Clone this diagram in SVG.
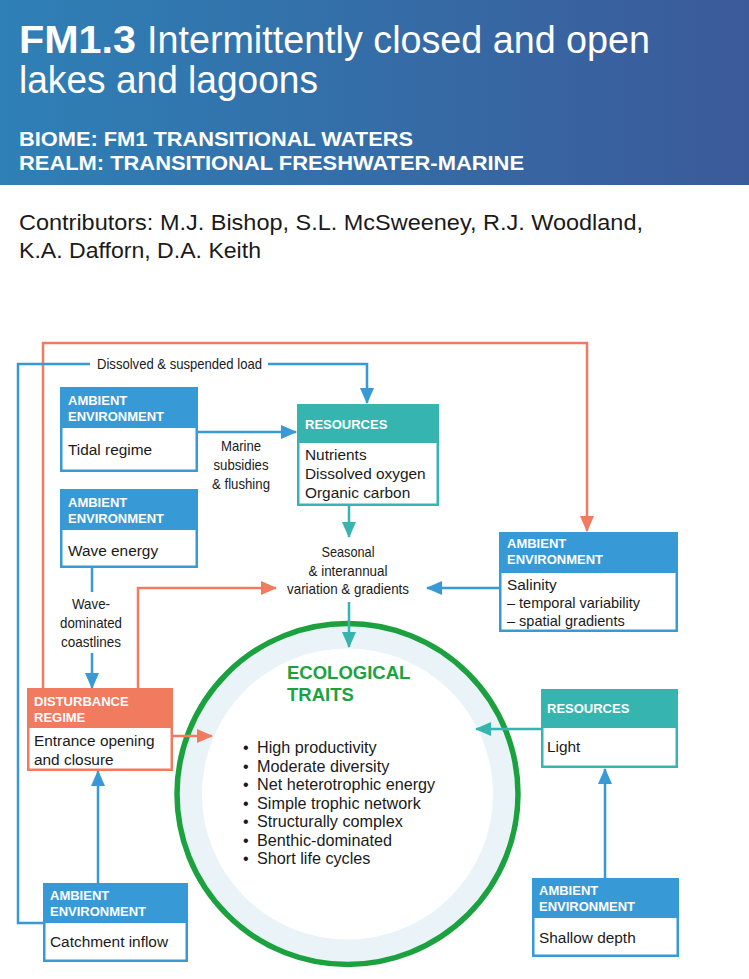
<svg xmlns="http://www.w3.org/2000/svg" width="749" height="979" viewBox="0 0 749 979">
<defs>
<linearGradient id="hg" x1="0" y1="0" x2="1" y2="0">
<stop offset="0" stop-color="#2e80b6"/>
<stop offset="1" stop-color="#3b5a99"/>
</linearGradient>
<marker id="aB" markerUnits="userSpaceOnUse" markerWidth="16" markerHeight="14" viewBox="0 0 16 14" refX="15" refY="7" orient="auto"><path d="M0,0L16,7L0,14z" fill="#3799d6"/></marker>
<marker id="aT" markerUnits="userSpaceOnUse" markerWidth="16" markerHeight="14" viewBox="0 0 16 14" refX="15" refY="7" orient="auto"><path d="M0,0L16,7L0,14z" fill="#36b5b0"/></marker>
<marker id="aO" markerUnits="userSpaceOnUse" markerWidth="16" markerHeight="14" viewBox="0 0 16 14" refX="15" refY="7" orient="auto"><path d="M0,0L16,7L0,14z" fill="#f07b5e"/></marker>
</defs>
<style>
.sans{font-family:"Liberation Sans",Arial,sans-serif}
.hd{font-family:"Liberation Sans",Arial,sans-serif;font-weight:bold;font-size:13px;fill:#fff}
.bd{font-family:"Liberation Sans",Arial,sans-serif;font-size:15.4px;fill:#1a1a1a}
.sm{font-family:"Liberation Sans",Arial,sans-serif;font-size:14.5px;fill:#1a1a1a}
.lb{font-family:"Liberation Sans Narrow","Liberation Sans",Arial,sans-serif;font-size:15px;fill:#1a1a1a;text-anchor:middle}
.bl{font-family:"Liberation Sans",Arial,sans-serif;font-size:16.2px;fill:#1a1a1a}
.cB{fill:none;stroke:#3799d6;stroke-width:2.5}
.cT{fill:none;stroke:#36b5b0;stroke-width:2.5}
.cO{fill:none;stroke:#f07b5e;stroke-width:2.5}
.bB{fill:#fff;stroke:#3799d6;stroke-width:2.5}
.bT{fill:#fff;stroke:#36b5b0;stroke-width:2.5}
.bO{fill:#fff;stroke:#f07b5e;stroke-width:2.5}
.hB{fill:#3799d6}
.hT{fill:#36b5b0}
.hO{fill:#f07b5e}
</style>

<g id="header">
<rect x="0" y="0" width="749" height="185" fill="url(#hg)"/>
<text x="19" y="53" class="sans" font-size="38" font-weight="bold" fill="#fff" textLength="117" lengthAdjust="spacingAndGlyphs">FM1.3</text>
<text x="147" y="53" class="sans" font-size="38" fill="#fff" textLength="503" lengthAdjust="spacingAndGlyphs">Intermittently closed and open</text>
<text x="19" y="93" class="sans" font-size="38" fill="#fff" textLength="299" lengthAdjust="spacingAndGlyphs">lakes and lagoons</text>
<text x="19" y="146" class="sans" font-size="20" font-weight="bold" fill="#fff" textLength="394" lengthAdjust="spacingAndGlyphs">BIOME: FM1 TRANSITIONAL WATERS</text>
<text x="19" y="170" class="sans" font-size="20" font-weight="bold" fill="#fff" textLength="505" lengthAdjust="spacingAndGlyphs">REALM: TRANSITIONAL FRESHWATER-MARINE</text>
</g>
<g id="contributors">
<text x="19" y="230" class="sans" font-size="22" fill="#1a1a1a" textLength="624" lengthAdjust="spacingAndGlyphs">Contributors: M.J. Bishop, S.L. McSweeney, R.J. Woodland,</text>
<text x="19" y="258" class="sans" font-size="22" fill="#1a1a1a" textLength="242" lengthAdjust="spacingAndGlyphs">K.A. Dafforn, D.A. Keith</text>
</g>

<g id="ecological-traits">
<circle cx="347.5" cy="794" r="171" fill="#eaf4f8"/>
<circle cx="347.5" cy="794" r="145.5" fill="#fff"/>
<circle cx="347.5" cy="794" r="170.5" fill="none" stroke="#1ba23f" stroke-width="5.5"/>
<text x="287" y="679" class="sans" font-size="18.5" font-weight="bold" fill="#1ba23f">ECOLOGICAL</text>
<text x="287" y="701" class="sans" font-size="18.5" font-weight="bold" fill="#1ba23f">TRAITS</text>
<g class="bl">
<text x="243" y="753">•</text><text x="257" y="753">High productivity</text>
<text x="243" y="771.5">•</text><text x="257" y="771.5">Moderate diversity</text>
<text x="243" y="790">•</text><text x="257" y="790">Net heterotrophic energy</text>
<text x="243" y="808.5">•</text><text x="257" y="808.5">Simple trophic network</text>
<text x="243" y="827">•</text><text x="257" y="827">Structurally complex</text>
<text x="243" y="845.5">•</text><text x="257" y="845.5">Benthic-dominated</text>
<text x="243" y="864">•</text><text x="257" y="864">Short life cycles</text>
</g>
</g>

<g id="connectors">
<path class="cO" d="M43,688V343H587V531" marker-end="url(#aO)"/>
<path class="cB" d="M43,923H18V364H90"/>
<path class="cB" d="M268,364H367V403" marker-end="url(#aB)"/>
<path class="cB" d="M198,432H296" marker-end="url(#aB)"/>
<path class="cT" d="M349,506V537" marker-end="url(#aT)"/>
<path class="cB" d="M499,588H427" marker-end="url(#aB)"/>
<path class="cO" d="M138,688V588H276" marker-end="url(#aO)"/>
<path class="cT" d="M349,602V647" marker-end="url(#aT)"/>
<path class="cB" d="M92,567V592"/>
<path class="cB" d="M92,653V688" marker-end="url(#aB)"/>
<path class="cO" d="M173,736H212" marker-end="url(#aO)"/>
<path class="cT" d="M541,729H476" marker-end="url(#aT)"/>
<path class="cB" d="M98,883V771" marker-end="url(#aB)"/>
<path class="cB" d="M605,878V769" marker-end="url(#aB)"/>
</g>

<g id="connector-labels">
<text class="lb" x="179.5" y="369" textLength="165" lengthAdjust="spacingAndGlyphs">Dissolved &amp; suspended load</text>
<text class="lb" x="241" y="451" textLength="40" lengthAdjust="spacingAndGlyphs">Marine</text>
<text class="lb" x="241" y="470" textLength="55" lengthAdjust="spacingAndGlyphs">subsidies</text>
<text class="lb" x="241" y="489" textLength="58" lengthAdjust="spacingAndGlyphs">&amp; flushing</text>
<text class="lb" x="348" y="557" textLength="53" lengthAdjust="spacingAndGlyphs">Seasonal</text>
<text class="lb" x="348" y="576" textLength="79" lengthAdjust="spacingAndGlyphs">&amp; interannual</text>
<text class="lb" x="348" y="594" textLength="122" lengthAdjust="spacingAndGlyphs">variation &amp; gradients</text>
<text class="lb" x="91" y="609" textLength="38" lengthAdjust="spacingAndGlyphs">Wave-</text>
<text class="lb" x="91" y="628" textLength="62" lengthAdjust="spacingAndGlyphs">dominated</text>
<text class="lb" x="91" y="647" textLength="60" lengthAdjust="spacingAndGlyphs">coastlines</text>
</g>

<g id="tidal-regime">
<rect class="bB" x="61.25" y="388.25" width="135.5" height="82.5"/>
<rect class="hB" x="60" y="387" width="138" height="41"/>
<text class="hd" x="68" y="405">AMBIENT</text>
<text class="hd" x="68" y="421">ENVIRONMENT</text>
<text class="bd" x="68" y="455">Tidal regime</text>
</g>

<g id="wave-energy">
<rect class="bB" x="61.25" y="490.25" width="135.5" height="76.5"/>
<rect class="hB" x="60" y="489" width="138" height="41"/>
<text class="hd" x="68" y="507">AMBIENT</text>
<text class="hd" x="68" y="523">ENVIRONMENT</text>
<text class="bd" x="68" y="556">Wave energy</text>
</g>

<g id="resources-top">
<rect class="bT" x="298.25" y="405.25" width="139.5" height="99.5"/>
<rect class="hT" x="297" y="404" width="142" height="39"/>
<text class="hd" x="305" y="429">RESOURCES</text>
<text class="bd" x="305" y="460">Nutrients</text>
<text class="bd" x="305" y="479">Dissolved oxygen</text>
<text class="bd" x="305" y="498">Organic carbon</text>
</g>

<g id="salinity">
<rect class="bB" x="500.25" y="533.25" width="176.5" height="97.5"/>
<rect class="hB" x="499" y="532" width="179" height="41"/>
<text class="hd" x="507" y="548">AMBIENT</text>
<text class="hd" x="507" y="564">ENVIRONMENT</text>
<text class="bd" x="507" y="590">Salinity</text>
<text class="sm" x="507" y="608">– temporal variability</text>
<text class="sm" x="507" y="626">– spatial gradients</text>
</g>

<g id="disturbance">
<rect class="bO" x="28.25" y="689.25" width="143.5" height="80.5"/>
<rect class="hO" x="27" y="688" width="146" height="40"/>
<text class="hd" x="34" y="706">DISTURBANCE</text>
<text class="hd" x="34" y="722">REGIME</text>
<text class="bd" x="34" y="746">Entrance opening</text>
<text class="bd" x="34" y="765">and closure</text>
</g>

<g id="catchment-inflow">
<rect class="bB" x="44.25" y="884.25" width="142.5" height="76.5"/>
<rect class="hB" x="43" y="883" width="145" height="40"/>
<text class="hd" x="50" y="900">AMBIENT</text>
<text class="hd" x="50" y="916">ENVIRONMENT</text>
<text class="bd" x="50" y="947">Catchment inflow</text>
</g>

<g id="light">
<rect class="bT" x="542.25" y="690.25" width="134.5" height="76.5"/>
<rect class="hT" x="541" y="689" width="137" height="39"/>
<text class="hd" x="547" y="713">RESOURCES</text>
<text class="bd" x="547" y="752">Light</text>
</g>

<g id="shallow-depth">
<rect class="bB" x="533.25" y="879.25" width="144.5" height="76.5"/>
<rect class="hB" x="532" y="878" width="147" height="40"/>
<text class="hd" x="539" y="895">AMBIENT</text>
<text class="hd" x="539" y="911">ENVIRONMENT</text>
<text class="bd" x="539" y="943">Shallow depth</text>
</g>
</svg>
